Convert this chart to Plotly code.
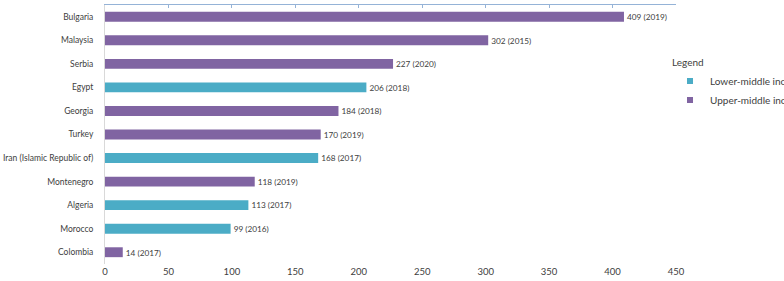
import plotly.graph_objects as go

countries = ["Bulgaria", "Malaysia", "Serbia", "Egypt", "Georgia", "Turkey",
             "Iran (Islamic Republic of)", "Montenegro", "Algeria", "Morocco", "Colombia"]
values = [409, 302, 227, 206, 184, 170, 168, 118, 113, 99, 14]
years = [2019, 2015, 2020, 2018, 2018, 2019, 2017, 2019, 2017, 2016, 2017]
groups = ["Upper-middle income", "Upper-middle income", "Upper-middle income",
          "Lower-middle income", "Upper-middle income", "Upper-middle income",
          "Lower-middle income", "Upper-middle income", "Lower-middle income",
          "Lower-middle income", "Upper-middle income"]
x_ticks = [0, 50, 100, 150, 200, 250, 300, 350, 400, 450]

colors = {"Lower-middle income": "#4BACC6", "Upper-middle income": "#8064A2"}
FONT = "Lato"
TXT = "#404040"

fig = go.Figure()
for g in ["Lower-middle income", "Upper-middle income"]:
    idx = [i for i, gg in enumerate(groups) if gg == g]
    fig.add_trace(go.Bar(
        y=[countries[i] for i in idx],
        x=[values[i] for i in idx],
        orientation="h",
        marker=dict(color=colors[g], line=dict(width=0)),
        text=[f"{values[i]} ({years[i]})" for i in idx],
        textposition="outside",
        textfont=dict(family=FONT, size=10, color=TXT),
        cliponaxis=False,
        width=0.42,
        showlegend=False,
        name=g,
    ))
    fig.add_trace(go.Scatter(
        x=[None], y=[None], mode="markers", name=g,
        marker=dict(symbol="square", size=6, color=colors[g]),
        showlegend=True,
    ))

# top axis line with inside ticks
fig.add_trace(go.Scatter(x=[None], y=[None], xaxis="x2", yaxis="y",
                         showlegend=False, hoverinfo="skip"))

fig.update_layout(
    width=784, height=281,
    margin=dict(l=105, r=108, t=5, b=17, autoexpand=False),
    paper_bgcolor="white", plot_bgcolor="white",
    barmode="relative",
    font=dict(family=FONT, size=10, color=TXT),
    xaxis=dict(range=[0, 450], tickvals=x_ticks, showgrid=False, zeroline=False,
               showline=False, ticks="", automargin=False,
               tickfont=dict(family=FONT, size=9.5, color=TXT)),
    xaxis2=dict(range=[0, 450], overlaying="x", side="top", tickvals=x_ticks,
                showticklabels=False, showgrid=False, zeroline=False, automargin=False,
                showline=True, linecolor="#95B3D7", linewidth=1,
                ticks="inside", ticklen=3, tickcolor="#95B3D7"),
    yaxis=dict(categoryorder="array", categoryarray=countries, autorange="reversed",
               showline=True, linecolor="#D9D9D9", linewidth=1, showgrid=False,
               ticks="", ticklabelstandoff=9, automargin=False,
               tickfont=dict(family=FONT, size=8.5, color=TXT)),
    legend=dict(x=0.9895, y=0.695, xanchor="left", yanchor="middle",
                title=dict(text="Legend", font=dict(family=FONT, size=10, color=TXT)),
                font=dict(family=FONT, size=10, color=TXT),
                itemwidth=30, tracegroupgap=0, bgcolor="rgba(0,0,0,0)"),
)

fig.write_html("out.html", config={"displayModeBar": False},
               post_script="document.body.style.margin='0';document.body.style.padding='0';")
